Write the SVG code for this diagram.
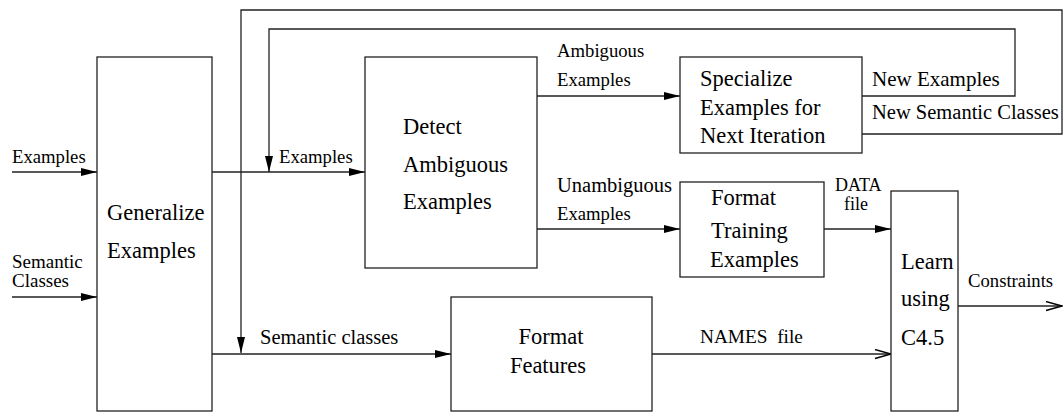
<svg xmlns="http://www.w3.org/2000/svg" width="1063" height="415" viewBox="0 0 1063 415" font-family="'Liberation Serif', 'DejaVu Serif', serif">
<style>
  .box { fill: #fff; stroke: #222; stroke-width: 1.3; }
  .edge { fill: none; stroke: #222; stroke-width: 1.3; }
  text { font-family: "Liberation Serif", "DejaVu Serif", serif; fill: #000; }
  .n { font-size: 22.5px; }
  .l { font-size: 18.7px; }
</style>
<defs>
  <marker id="fill" markerUnits="userSpaceOnUse" markerWidth="18" markerHeight="10" refX="16" refY="4" orient="auto">
    <path d="M0,0 L16,4 L0,8 z" fill="#000"/>
  </marker>
  <marker id="open" markerUnits="userSpaceOnUse" markerWidth="20" markerHeight="12" refX="17" refY="5" orient="auto">
    <path d="M1,0.5 L17,5 L1,9.5" fill="none" stroke="#000" stroke-width="1.4"/>
  </marker>
</defs>

<g id="connectors">
  <path class="edge" d="M12,172 H97" marker-end="url(#fill)"/>
  <path class="edge" d="M12,297 H97" marker-end="url(#fill)"/>
  <path class="edge" d="M212,172 H365" marker-end="url(#fill)"/>
  <path class="edge" d="M212,354 H451" marker-end="url(#fill)"/>
  <path class="edge" d="M862,134 H1062 V10 H241 V353" marker-end="url(#fill)"/>
  <path class="edge" d="M862,96 H1015 V29 H269 V172" marker-end="url(#fill)"/>
  <path class="edge" d="M537,96 H680" marker-end="url(#fill)"/>
  <path class="edge" d="M537,229 H680" marker-end="url(#fill)"/>
  <path class="edge" d="M824,229 H891" marker-end="url(#fill)"/>
  <path class="edge" d="M652,354 H891" marker-end="url(#open)"/>
  <path class="edge" d="M958,306 H1062" marker-end="url(#open)"/>
  <text class="l" x="12" y="163">Examples</text>
  <text x="12" y="268" style="font-size:19px">Semantic</text>
  <text x="12" y="287" style="font-size:19px">Classes</text>
  <text class="l" x="279" y="163">Examples</text>
  <text class="l" x="557" y="57">Ambiguous</text>
  <text class="l" x="557" y="86">Examples</text>
  <text x="557" y="192" style="font-size:20.5px">Unambiguous</text>
  <text class="l" x="557" y="220">Examples</text>
  <text x="872" y="86" style="font-size:21px">New Examples</text>
  <text x="872" y="119" style="font-size:20.5px">New Semantic Classes</text>
  <text x="835" y="191" style="font-size:18px">DATA</text>
  <text x="844" y="210" style="font-size:18px">file</text>
  <text class="l" x="968" y="287">Constraints</text>
  <text x="260" y="344" style="font-size:20.5px">Semantic classes</text>
  <text x="700" y="343" style="font-size:19.3px;white-space:pre">NAMES  file</text>
</g>

<g id="generalize">
  <rect class="box" x="97" y="57" width="115" height="354"/>
  <text class="n" x="107" y="220">Generalize</text>
  <text class="n" x="107" y="258">Examples</text>
</g>

<g id="detect">
  <rect class="box" x="365" y="57" width="172" height="211"/>
  <text class="n" x="403" y="134">Detect</text>
  <text class="n" x="403" y="172">Ambiguous</text>
  <text class="n" x="403" y="209">Examples</text>
</g>

<g id="specialize">
  <rect class="box" x="680" y="57" width="182" height="96"/>
  <text class="n" x="700" y="86">Specialize</text>
  <text class="n" x="700" y="115">Examples for</text>
  <text class="n" x="700" y="143">Next Iteration</text>
</g>

<g id="format-training">
  <rect class="box" x="680" y="182" width="144" height="95"/>
  <text class="n" x="711" y="205">Format</text>
  <text class="n" x="711" y="238">Training</text>
  <text class="n" x="710" y="267">Examples</text>
</g>

<g id="learn">
  <rect class="box" x="891" y="191" width="67" height="220"/>
  <text class="n" x="901" y="269">Learn</text>
  <text class="n" x="901" y="306">using</text>
  <text class="n" x="901" y="345">C4.5</text>
</g>

<g id="format-features">
  <rect class="box" x="451" y="297" width="201" height="114"/>
  <text class="n" x="551" y="344" text-anchor="middle">Format</text>
  <text class="n" x="548" y="373" text-anchor="middle">Features</text>
</g>
</svg>
